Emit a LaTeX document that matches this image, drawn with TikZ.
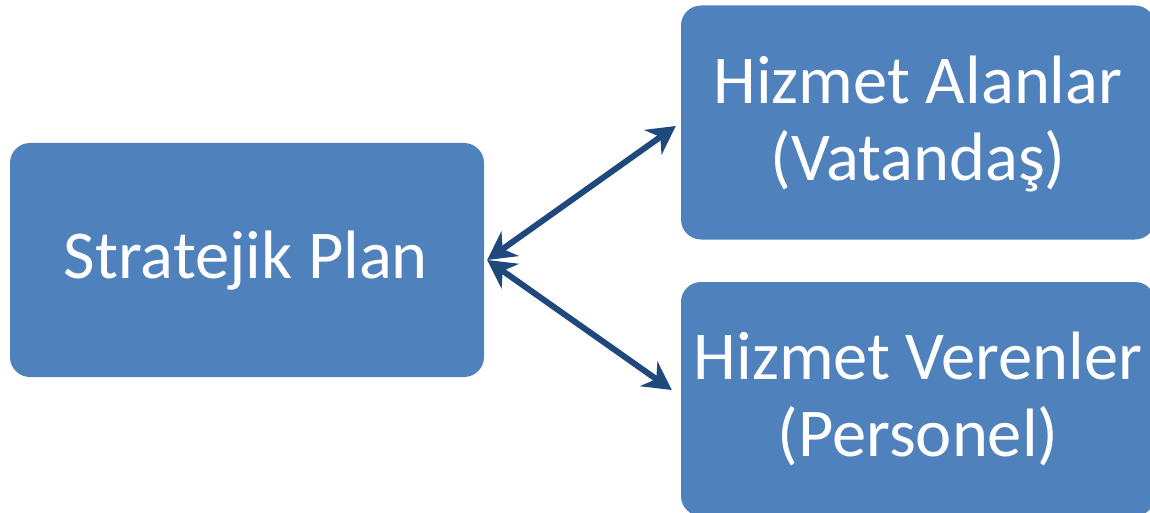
\documentclass[tikz,border=0pt]{standalone}
\usepackage{fontspec}
\setmainfont{Carlito}
\usetikzlibrary{arrows.meta,calc}
\definecolor{boxblue}{HTML}{4F81BD}
\definecolor{arrowblue}{HTML}{1F497D}
\tikzset{
  box/.style={fill=boxblue, draw=none, rounded corners=20pt, minimum width=474pt, minimum height=234pt, inner sep=0pt},
  label/.style={text=white, align=center, font=\fontsize{68.5}{77}\selectfont, inner sep=0pt},
  arr/.style={draw=arrowblue, line width=6pt, {Stealth[length=28pt,width=30pt,inset=9pt]}-{Stealth[length=28pt,width=30pt,inset=9pt]}}
}
\begin{document}
\begin{tikzpicture}[x=1pt,y=-1pt]
\useasboundingbox (0,0) rectangle (1150,513);
\clip (0,0) rectangle (1150,513);
\node[box] (sp) at (247,260) {};
\node[box] (ha) at (918,122.5) {};
\node[box] (hv) at (918,399) {};
\node[label] (tsp) at (246,261) {Stratejik Plan};
\node[label] (tha) at (918,124) {Hizmet Alanlar\\(Vatandaş)};
\node[label] (thv) at (918,399) {Hizmet Verenler\\(Personel)};
\coordinate (a0) at ($(sp.east)+(3,0)$);
\coordinate (a1) at ($(ha.west)+(-5,3.5)$);
\coordinate (a2) at ($(hv.west)+(-9,-9)$);
\draw[arr] (a0) -- (a1);
\draw[arr] (a0) -- (a2);
\end{tikzpicture}
\end{document}
